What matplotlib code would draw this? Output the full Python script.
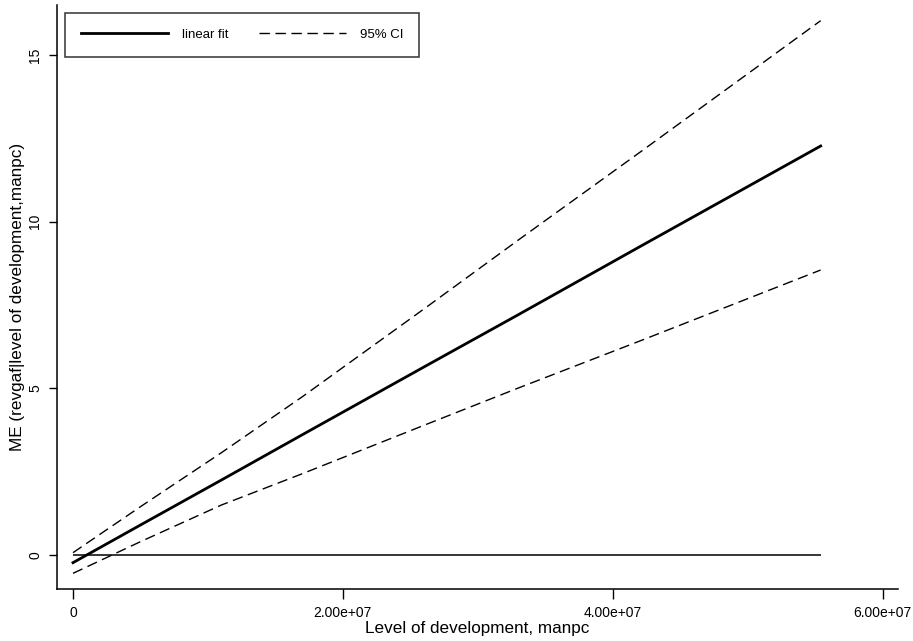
import matplotlib
matplotlib.use("Agg")
import matplotlib.pyplot as plt
import numpy as np

plt.rcParams['font.family'] = ['Liberation Sans', 'DejaVu Sans']

# Level of development, manpc
x_vals = [0.0, 0.5e7, 1.1e7, 1.7e7, 2.6e7, 3.3e7, 4.2e7, 5.54e7]
fit_vals = [-0.23, 0.90, 2.25, 3.61, 5.64, 7.21, 9.25, 12.27]
upper_vals = [0.07, 1.45, 3.07, 4.75, 7.38, 9.45, 12.08, 16.03]
lower_vals = [-0.55, 0.40, 1.50, 2.44, 3.89, 5.01, 6.42, 8.55]
zero_line_x = [0.0, 5.54e7]
zero_line_y = [0.0, 0.0]

x_ticks = [0, 2e7, 4e7, 6e7]
x_ticklabels = ["0", "2.00e+07", "4.00e+07", "6.00e+07"]
y_ticks = [0, 5, 10, 15]
y_ticklabels = ["0", "5", "10", "15"]

fig = plt.figure(figsize=(9.13, 6.41), dpi=100)
ax = fig.add_axes([57/913, 1-589/641, (898-57)/913, (589-5)/641])

ax.plot(zero_line_x, zero_line_y, color='black', lw=1.1, solid_capstyle='butt')
ax.plot(x_vals, fit_vals, color='black', lw=2.0, label='linear fit')
ax.plot(x_vals, upper_vals, color='black', lw=1.0, dashes=(7.5, 4), label='95% CI')
ax.plot(x_vals, lower_vals, color='black', lw=1.0, dashes=(7.5, 4))

ax.set_xlim(-0.1186e7, 6.113e7)
ax.set_ylim(-1.02, 16.5)

for s in ['top', 'right']:
    ax.spines[s].set_visible(False)
for s in ['left', 'bottom']:
    ax.spines[s].set_linewidth(1.1)

ax.set_xticks(x_ticks)
ax.set_xticklabels(x_ticklabels, fontsize=10)
ax.set_yticks(y_ticks)
ax.set_yticklabels(y_ticklabels, fontsize=10, rotation=90, va='center')
ax.tick_params(axis='x', length=7.2, width=1.0, pad=5.0, direction='out')
ax.tick_params(axis='y', length=5.8, width=1.0, pad=5.0, direction='out')

ax.set_xlabel("Level of development, manpc", fontsize=12.3, labelpad=1)
ax.set_ylabel("ME (revgaf|level of development,manpc)", fontsize=12.3, labelpad=2)

leg = ax.legend(loc='upper left', bbox_to_anchor=(8/841, 1-8/584), borderaxespad=0,
                ncol=2, fontsize=9.5, handlelength=6.6, handletextpad=1.05,
                columnspacing=2.3, borderpad=1.2, fancybox=False, frameon=True)
leg.get_frame().set_edgecolor('black')
leg.get_frame().set_linewidth(1.1)

fig.savefig("out.png", dpi=100)
